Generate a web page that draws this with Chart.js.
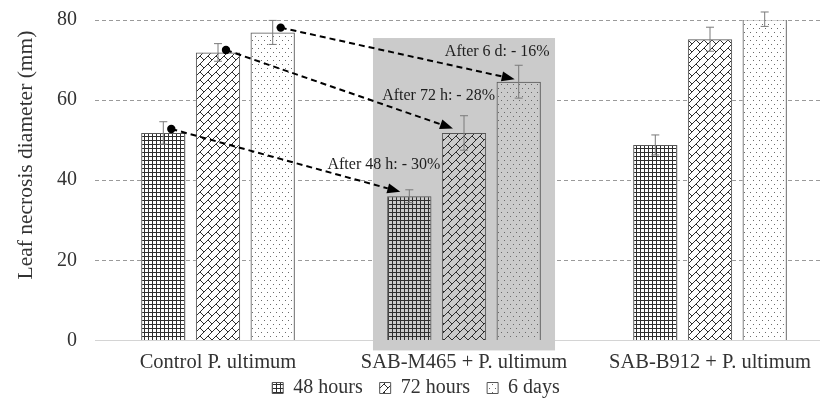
<!DOCTYPE html>
<html>
<head>
<meta charset="utf-8">
<script src="https://cdn.jsdelivr.net/npm/chart.js@4.4.0/dist/chart.umd.min.js"></script>
<style>
html, body { margin: 0; padding: 0; background: #fff; overflow: hidden; }
#wrap { width: 836px; height: 416px; }
</style>
</head>
<body>
<div id="wrap"><canvas id="myChart"></canvas></div>
<script>
const categories = ['Control P. ultimum', 'SAB-M465 + P. ultimum', 'SAB-B912 + P. ultimum'];
const seriesNames = ['48 hours', '72 hours', '6 days'];
const hours48 = [51.8, 36.0, 48.8];
const hours72 = [71.9, 51.8, 75.2];
const days6 = [76.9, 64.6, 80.2];
const err48 = [2.8, 1.6, 2.5];
const err72 = [2.2, 4.3, 3.0];
const err6 = [3.0, 4.1, 1.8];
const yTicks = [0, 20, 40, 60, 80];
const yTitle = 'Leaf necrosis diameter (mm)';

// reduction arrows from the control bars to the SAB-M465 bars
const arrowFrom = [52.8, 72.5, 78.1];
const arrowTo = [37.1, 52.9, 65.2];
const arrowLabels = ['After 48 h: - 30%', 'After 72 h: - 28%', 'After 6 d: - 16%'];
const labelLevels = [43.8, 61, 72];
const shadeRange = [-2.5, 75.5];

const serif = "'Liberation Serif', 'Times New Roman', serif";

function makePattern(kind) {
    const c = document.createElement('canvas');
    const g = c.getContext('2d');
    if (kind === 'grid') {
        c.width = 4; c.height = 4;
        g.fillStyle = '#2e2e2e';
        g.fillRect(0, 0, 4, 1);
        g.fillRect(0, 0, 1, 4);
    } else if (kind === 'brick') {
        c.width = 8; c.height = 8;
        g.strokeStyle = '#2e2e2e';
        g.lineWidth = 1;
        g.beginPath();
        g.moveTo(-1, 9); g.lineTo(9, -1);
        g.moveTo(-2, 2); g.lineTo(2, -2);
        g.moveTo(6, 10); g.lineTo(10, 6);
        g.moveTo(0, 0); g.lineTo(4, 4);
        g.stroke();
    } else {
        c.width = 6; c.height = 8;
        g.fillStyle = '#6a6a6a';
        g.fillRect(0, 0, 1, 1);
        g.fillRect(3, 4, 1, 1);
    }
    return document.getElementById('myChart').getContext('2d').createPattern(c, 'repeat');
}

const patterns = [makePattern('grid'), makePattern('brick'), makePattern('dots')];
const values = [hours48, hours72, days6];
const errors = [err48, err72, err6];

const shadeBox = {
    id: 'shadeBox',
    beforeDatasetsDraw(chart) {
        const {ctx, scales: {x, y}} = chart;
        ctx.save();
        // white under the bars so the grid does not show through the pattern
        ctx.fillStyle = '#fff';
        chart.data.datasets.forEach((ds, i) => {
            chart.getDatasetMeta(i).data.forEach(bar => {
                ctx.fillRect(bar.x - bar.width / 2, bar.y, bar.width, bar.base - bar.y);
            });
        });
        const step = x.getPixelForValue(1) - x.getPixelForValue(0);
        const cx = x.getPixelForValue(1);
        const top = y.getPixelForValue(shadeRange[1]);
        const bottom = y.getPixelForValue(shadeRange[0]);
        ctx.fillStyle = '#cbcbcb';
        ctx.fillRect(cx - step * 0.37, top, step * 0.74, bottom - top);
        ctx.restore();
    }
};

const errorBars = {
    id: 'errorBars',
    afterDatasetsDraw(chart) {
        const {ctx, scales: {y}} = chart;
        ctx.save();
        ctx.strokeStyle = '#7a7a7a';
        ctx.lineWidth = 1;
        errors.forEach((errs, i) => {
            chart.getDatasetMeta(i).data.forEach((bar, j) => {
                const v = values[i][j];
                const hi = y.getPixelForValue(v + errs[j]);
                const lo = y.getPixelForValue(v - errs[j]);
                ctx.beginPath();
                ctx.moveTo(bar.x, hi); ctx.lineTo(bar.x, lo);
                ctx.moveTo(bar.x - 4, hi); ctx.lineTo(bar.x + 4, hi);
                ctx.moveTo(bar.x - 4, lo); ctx.lineTo(bar.x + 4, lo);
                ctx.stroke();
            });
        });
        ctx.restore();
    }
};

const arrows = {
    id: 'arrows',
    afterDatasetsDraw(chart) {
        const {ctx, scales: {y}} = chart;
        const endShift = [-9, -11, -4];
        ctx.save();
        arrowFrom.forEach((v, i) => {
            const meta = chart.getDatasetMeta(i);
            const x0 = meta.data[0].x + 8;
            const y0 = y.getPixelForValue(v);
            const x1 = meta.data[1].x + endShift[i];
            const y1 = y.getPixelForValue(arrowTo[i]);
            const ang = Math.atan2(y1 - y0, x1 - x0);
            const head = 13;
            ctx.strokeStyle = '#000';
            ctx.fillStyle = '#000';
            ctx.lineWidth = 2;
            ctx.setLineDash([6, 4]);
            ctx.beginPath();
            ctx.moveTo(x0, y0);
            ctx.lineTo(x1 - head * Math.cos(ang), y1 - head * Math.sin(ang));
            ctx.stroke();
            ctx.setLineDash([]);
            ctx.beginPath();
            ctx.arc(x0, y0, 4.2, 0, Math.PI * 2);
            ctx.fill();
            ctx.beginPath();
            ctx.moveTo(x1, y1);
            ctx.lineTo(x1 - head * Math.cos(ang) + 5 * Math.sin(ang), y1 - head * Math.sin(ang) - 5 * Math.cos(ang));
            ctx.lineTo(x1 - head * Math.cos(ang) - 5 * Math.sin(ang), y1 - head * Math.sin(ang) + 5 * Math.cos(ang));
            ctx.closePath();
            ctx.fill();

            ctx.font = '16px ' + serif;
            ctx.fillStyle = '#1e1e1e';
            ctx.textAlign = 'right';
            ctx.textBaseline = 'middle';
            ctx.fillText(arrowLabels[i], meta.data[1].x + 31, y.getPixelForValue(labelLevels[i]));
        });
        ctx.restore();
    }
};

// y title sits a little above the middle of the axis, as in the original figure
const axisTitle = {
    id: 'axisTitle',
    afterDraw(chart) {
        const {ctx} = chart;
        ctx.save();
        ctx.translate(26, 155);
        ctx.rotate(-Math.PI / 2);
        ctx.font = '21.5px ' + serif;
        ctx.fillStyle = '#333';
        ctx.textAlign = 'center';
        ctx.textBaseline = 'middle';
        ctx.fillText(yTitle, 0, 0);
        ctx.restore();
    }
};

// legend hugs the category labels; its padding is only wanted between items
const legendNudge = {
    id: 'legendNudge',
    afterLayout(chart) {
        const lg = chart.legend;
        lg.top -= 8;
        lg.bottom -= 8;
        lg.left -= 20;
        lg.right -= 20;
    }
};

new Chart(document.getElementById('myChart'), {
    type: 'bar',
    data: {
        labels: categories,
        datasets: seriesNames.map((name, i) => ({
            label: name,
            data: values[i],
            backgroundColor: patterns[i],
            borderColor: '#555',
            borderWidth: 1,
            barPercentage: 0.81,
            categoryPercentage: 0.667
        }))
    },
    options: {
        responsive: true,
        maintainAspectRatio: false,
        animation: false,
        layout: { padding: { top: 0, left: 39, right: 3, bottom: 0 } },
        plugins: {
            legend: {
                position: 'bottom',
                labels: {
                    boxWidth: 11,
                    boxHeight: 11,
                    padding: 17,
                    color: '#333',
                    font: { family: serif, size: 20 }
                }
            },
            tooltip: { enabled: false }
        },
        scales: {
            x: {
                grid: { display: false },
                border: { display: true, color: '#d4d4d4', width: 1 },
                ticks: { color: '#333', padding: 2, font: { family: serif, size: 20.5 } },
                afterFit: axis => { axis.height -= 8; }
            },
            y: {
                min: 0,
                max: 80,
                afterBuildTicks: axis => { axis.ticks = yTicks.map(v => ({ value: v })); },
                afterFit: axis => { axis.paddingTop = 20; },
                grid: {
                    drawTicks: false,
                    color: c => c.tick && c.tick.value === 0 ? 'rgba(0,0,0,0)' : '#9a9a9a'
                },
                border: { display: false, dash: [4, 3] },
                ticks: { color: '#333', padding: 18, font: { family: serif, size: 20 } }
            }
        }
    },
    plugins: [shadeBox, errorBars, arrows, axisTitle, legendNudge]
});
</script>
</body>
</html>
